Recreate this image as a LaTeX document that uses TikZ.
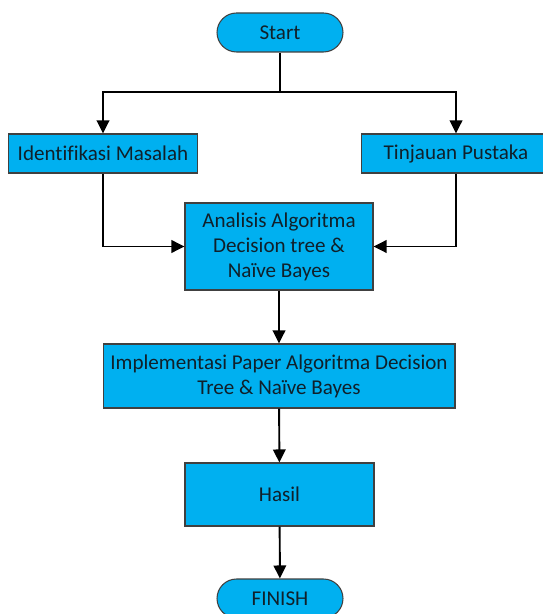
\documentclass[tikz,border=0pt]{standalone}
\usepackage{fontspec}
\setmainfont{Carlito}[Ligatures=NoCommon]
\usetikzlibrary{arrows.meta}
\definecolor{boxblue}{HTML}{00B0F0}
\definecolor{boxline}{HTML}{404040}
\definecolor{boxtext}{HTML}{10202A}
\begin{document}
\begin{tikzpicture}[x=0.02cm, y=-0.02cm,
	every node/.style={font=\fontsize{12}{14.2}\selectfont, align=center, inner sep=2pt, text=boxtext},
	>={Triangle[length=2.6mm, width=2.5mm]},
	proc/.style={draw=boxline, fill=boxblue, line width=0.6pt, minimum height=0.78cm},
	term/.style={proc, rounded corners=0.39cm, minimum width=2.52cm},
	conn/.style={line width=1.1pt}]
	\useasboundingbox[fill=white] (0,0) rectangle (542,614);
	\node[term] (start) at (280,32.5) {Start};
	\node[proc, minimum width=3.78cm] (ident) at (103,153.5) {Identifikasi Masalah};
	\node[proc, minimum width=3.80cm] (tinjauan) at (456,153.5) {Tinjauan Pustaka};
	\node[proc, minimum width=3.76cm, minimum height=1.74cm] (analisis) at (279,246.5) {Analisis Algoritma\\Decision tree \&\\Naïve Bayes};
	\node[proc, minimum width=7.04cm, minimum height=1.28cm] (impl) at (279,376) {Implementasi Paper Algoritma Decision\\Tree \& Naïve Bayes};
	\node[proc, minimum width=3.78cm, minimum height=1.26cm] (hasil) at (279.5,494.5) {Hasil};
	\node[term] (finish) at (280,598.5) {FINISH};
	\coordinate (split) at (280,92);
	\draw[conn] (start) -- (split);
	\draw[conn, ->] (split) -| (ident);
	\draw[conn, ->] (split) -| (tinjauan);
	\draw[conn, ->] (ident) |- (analisis);
	\draw[conn, ->] (tinjauan) |- (analisis);
	\draw[conn, ->] (analisis) -- (impl);
	\draw[conn, ->] (impl) -- (hasil);
	\draw[conn, ->] (hasil) -- (finish);
\end{tikzpicture}
\end{document}
